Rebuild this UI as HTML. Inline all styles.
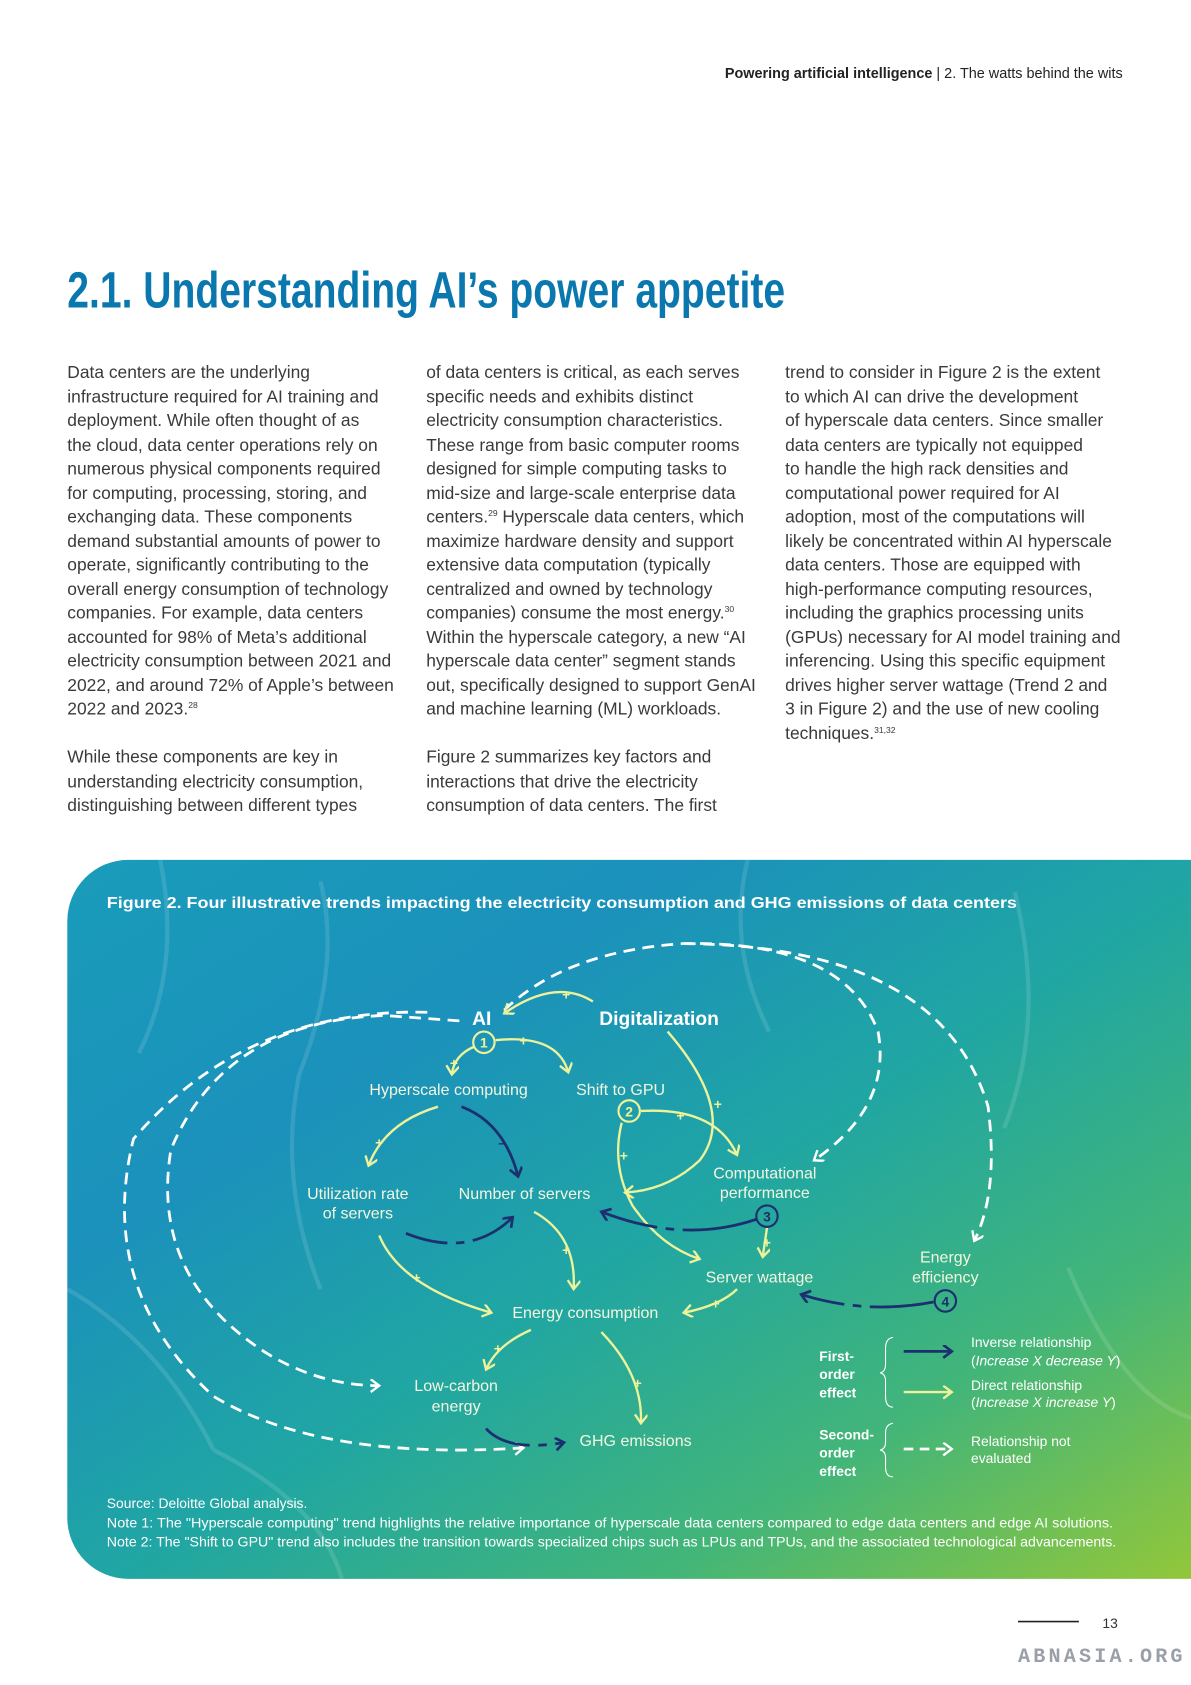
<!DOCTYPE html>
<html><head><meta charset="utf-8">
<style>
html,body{margin:0;padding:0;background:#fff;}
body{width:1191px;height:1684px;overflow:hidden;position:relative;}
#page{position:absolute;left:0;top:0;width:1115px;height:1577px;transform:scale(1.0682);transform-origin:0 0;font-family:"Liberation Sans",sans-serif;}
.col{position:absolute;top:338px;width:330px;font-size:16.3px;line-height:22.5px;color:#3a3a3a;white-space:nowrap;}
sup{font-size:8px;vertical-align:6px;line-height:0;}
</style></head>
<body>
<div id="page">
<div style="position:absolute;right:64px;top:61px;font-size:13.5px;color:#222;white-space:nowrap;"><b>Powering artificial intelligence</b> | 2. The watts behind the wits</div>

<svg style="position:absolute;left:0;top:240px" width="800" height="70">
<text x="63" y="48" font-family="Liberation Sans Narrow, Liberation Sans, sans-serif" font-weight="bold" font-size="48" fill="#0a78ae" textLength="672" lengthAdjust="spacingAndGlyphs">2.1. Understanding AI’s power appetite</text></svg>

<div class="col" style="left:63px">Data centers are the underlying<br>infrastructure required for AI training and<br>deployment. While often thought of as<br>the cloud, data center operations rely on<br>numerous physical components required<br>for computing, processing, storing, and<br>exchanging data. These components<br>demand substantial amounts of power to<br>operate, significantly contributing to the<br>overall energy consumption of technology<br>companies. For example, data centers<br>accounted for 98% of Meta’s additional<br>electricity consumption between 2021 and<br>2022, and around 72% of Apple’s between<br>2022 and 2023.<sup>28</sup><br><br>While these components are key in<br>understanding electricity consumption,<br>distinguishing between different types</div>

<div class="col" style="left:399px">of data centers is critical, as each serves<br>specific needs and exhibits distinct<br>electricity consumption characteristics.<br>These range from basic computer rooms<br>designed for simple computing tasks to<br>mid-size and large-scale enterprise data<br>centers.<sup>29</sup> Hyperscale data centers, which<br>maximize hardware density and support<br>extensive data computation (typically<br>centralized and owned by technology<br>companies) consume the most energy.<sup>30</sup><br>Within the hyperscale category, a new “AI<br>hyperscale data center” segment stands<br>out, specifically designed to support GenAI<br>and machine learning (ML) workloads.<br><br>Figure 2 summarizes key factors and<br>interactions that drive the electricity<br>consumption of data centers. The first</div>

<div class="col" style="left:735px">trend to consider in Figure 2 is the extent<br>to which AI can drive the development<br>of hyperscale data centers. Since smaller<br>data centers are typically not equipped<br>to handle the high rack densities and<br>computational power required for AI<br>adoption, most of the computations will<br>likely be concentrated within AI hyperscale<br>data centers. Those are equipped with<br>high-performance computing resources,<br>including the graphics processing units<br>(GPUs) necessary for AI model training and<br>inferencing. Using this specific equipment<br>drives higher server wattage (Trend 2 and<br>3 in Figure 2) and the use of new cooling<br>techniques.<sup>31,32</sup></div>

<svg style="position:absolute;left:0;top:0" width="1115" height="1577" viewBox="0 0 1115 1577" font-family="Liberation Sans, sans-serif">
<defs>
<linearGradient id="bg" x1="0" y1="0" x2="1" y2="1">
<stop offset="0" stop-color="#1a9cba"/>
<stop offset="0.28" stop-color="#1b91bb"/>
<stop offset="0.52" stop-color="#20a6a3"/>
<stop offset="0.76" stop-color="#42b579"/>
<stop offset="1" stop-color="#92c73a"/>
</linearGradient>
<marker id="my" markerUnits="userSpaceOnUse" markerWidth="16" markerHeight="16" refX="9" refY="6" orient="auto"><path d="M1,0 L9,6 L1,12" fill="none" stroke="#eef39a" stroke-width="2.2"/></marker>
<marker id="mn" markerUnits="userSpaceOnUse" markerWidth="16" markerHeight="16" refX="9" refY="6" orient="auto"><path d="M1,0 L9,6 L1,12" fill="none" stroke="#1c2f6e" stroke-width="2.5"/></marker>
<marker id="mw" markerUnits="userSpaceOnUse" markerWidth="16" markerHeight="16" refX="9" refY="6" orient="auto"><path d="M1,0 L9,6 L1,12" fill="none" stroke="#fff" stroke-width="2.2"/></marker>
</defs>
<g transform="translate(63 805) scale(1 1.0045) translate(-63 -800)">
<path d="M120,800 H1115 V1470 H120 A57,57 0 0 1 63,1413 V857 A57,57 0 0 1 120,800Z" fill="url(#bg)"/>
<g stroke="#ffffff" stroke-opacity="0.12" stroke-width="4" fill="none">
<path d="M150,800 Q170,900 130,980 M300,820 Q320,900 280,1000 Q260,1100 300,1200 M700,800 Q680,880 720,960 M950,830 Q980,950 940,1050 M1000,1180 Q1050,1300 1115,1320 M200,1350 Q300,1400 320,1470 M63,1200 Q150,1250 200,1350"/>
</g>
<text x="100" y="845" font-size="15" font-weight="bold" fill="#fff" textLength="852" lengthAdjust="spacingAndGlyphs">Figure 2.    Four illustrative trends impacting the electricity consumption and GHG emissions of data centers</text>

<g fill="none" stroke="#fff" stroke-width="2.6" stroke-dasharray="11 7" marker-end="url(#mw)">
<path d="M472,940 Q530,885 640,878 Q790,875 822,960 Q835,1030 762,1080"/>
<path d="M640,878 Q880,880 925,1030 Q935,1110 912,1155"/>
<path d="M430,950 L360,945 Q210,950 160,1070 Q140,1190 250,1260 Q300,1290 355,1290"/>
<path d="M400,942 Q230,938 125,1060 Q90,1200 200,1300 Q300,1360 490,1348"/>
</g>

<g fill="none" stroke="#eef39a" stroke-width="2.2" marker-end="url(#my)">
<path d="M555,932 Q520,910 472,943"/>
<path d="M464,968 Q522,962 532,998"/>
<path d="M444,974 Q425,982 423,1000"/>
<path d="M625,960 Q690,1035 655,1080 Q625,1108 585,1110"/>
<path d="M600,1034 Q670,1030 690,1075"/>
<path d="M582,1045 Q572,1085 592,1122 Q618,1160 655,1172"/>
<path d="M410,1030 Q360,1045 345,1085"/>
<path d="M718,1143 L714,1170"/>
<path d="M500,1128 Q540,1150 537,1200"/>
<path d="M355,1150 Q375,1198 460,1222"/>
<path d="M690,1200 Q675,1215 640,1222"/>
<path d="M497,1238 Q465,1252 455,1275"/>
<path d="M563,1240 Q602,1280 600,1325"/>
</g>
<g fill="none" stroke="#1c2f6e" stroke-width="2.6" marker-end="url(#mn)">
<path d="M432,1030 Q472,1045 485,1095"/>
<path stroke-dasharray="70 8 8 8 200" d="M708,1135 Q640,1158 563,1128"/>
<path stroke-dasharray="40 8 8 8 200" d="M380,1148 Q440,1172 480,1133"/>
<path stroke-dasharray="60 8 8 8 200" d="M874,1212 Q810,1224 750,1205"/>
<path stroke-dasharray="45 8 8 8 200" d="M455,1330 Q475,1352 528,1343"/>
</g>

<g font-size="13" fill="#eef39a" font-weight="bold" text-anchor="middle">
<text x="530" y="930">+</text><text x="490" y="973">+</text><text x="425" y="994">+</text>
<text x="672" y="1032">+</text><text x="637" y="1043">+</text><text x="584" y="1080">+</text>
<text x="355" y="1068">+</text><text x="718" y="1161">+</text><text x="530" y="1168">+</text>
<text x="390" y="1194">+</text><text x="670" y="1218">+</text><text x="466" y="1260">+</text><text x="597" y="1292">+</text>
</g>
<text x="470" y="1068" font-size="13" fill="#1c2f6e" font-weight="bold" text-anchor="middle">–</text>

<g fill="none" stroke-width="2">
<circle cx="453" cy="970" r="10" stroke="#eef39a"/>
<circle cx="589" cy="1034" r="10" stroke="#eef39a"/>
<circle cx="718" cy="1132" r="10" stroke="#1c2f6e"/>
<circle cx="885" cy="1211" r="10" stroke="#1c2f6e"/>
</g>
<g font-size="13" text-anchor="middle" font-weight="bold">
<text x="453" y="975" fill="#eef39a">1</text><text x="589" y="1039" fill="#eef39a">2</text>
<text x="718" y="1137" fill="#1c2f6e">3</text><text x="885" y="1216" fill="#1c2f6e">4</text>
</g>

<g fill="#f3f6e0" font-size="15" text-anchor="middle">
<text x="451" y="954" font-size="18" font-weight="bold" fill="#fff">AI</text>
<text x="617" y="954" font-size="18" font-weight="bold" fill="#fff">Digitalization</text>
<text x="420" y="1019">Hyperscale computing</text>
<text x="581" y="1019">Shift to GPU</text>
<text x="335" y="1116">Utilization rate</text>
<text x="335" y="1134">of servers</text>
<text x="491" y="1116">Number of servers</text>
<text x="716" y="1097">Computational</text>
<text x="716" y="1115">performance</text>
<text x="711" y="1194">Server wattage</text>
<text x="885" y="1175">Energy</text>
<text x="885" y="1194">efficiency</text>
<text x="548" y="1227">Energy consumption</text>
<text x="427" y="1295">Low-carbon</text>
<text x="427" y="1314">energy</text>
<text x="595" y="1346">GHG emissions</text>
</g>

<g fill="#fff" font-size="13">
<g font-weight="bold"><text x="767" y="1267">First-</text><text x="767" y="1284">order</text><text x="767" y="1301">effect</text>
<text x="767" y="1340">Second-</text><text x="767" y="1357">order</text><text x="767" y="1374">effect</text></g>
<path d="M836,1245 Q829,1246 829,1255 V1270 Q829,1277 824,1278 Q829,1279 829,1286 V1300 Q829,1310 836,1310" fill="none" stroke="#fff" stroke-width="1"/>
<path d="M836,1325 Q829,1326 829,1334 V1343 Q829,1349 824,1350 Q829,1351 829,1357 V1366 Q829,1375 836,1375" fill="none" stroke="#fff" stroke-width="1"/>
<path d="M846,1258 H891" stroke="#1c2f6e" stroke-width="2.6" marker-end="url(#mn)"/>
<path d="M846,1296 H891" stroke="#eef39a" stroke-width="2.2" marker-end="url(#my)"/>
<path d="M846,1349 H891" stroke="#fff" stroke-width="2.6" stroke-dasharray="9 6" marker-end="url(#mw)"/>
<text x="909" y="1254">Inverse relationship</text>
<text x="909" y="1271">(<tspan font-style="italic">Increase X decrease Y</tspan>)</text>
<text x="909" y="1294">Direct relationship</text>
<text x="909" y="1310">(<tspan font-style="italic">Increase X increase Y</tspan>)</text>
<text x="909" y="1346">Relationship not</text>
<text x="909" y="1362">evaluated</text>
</g>

<g fill="#fff" font-size="13">
<text x="100" y="1404">Source: Deloitte Global analysis.</text>
<text x="100" y="1422" textLength="942" lengthAdjust="spacingAndGlyphs">Note 1: The "Hyperscale computing" trend highlights the relative importance of hyperscale data centers compared to edge data centers and edge AI solutions.</text>
<text x="100" y="1440" textLength="945" lengthAdjust="spacingAndGlyphs">Note 2: The "Shift to GPU" trend also includes the transition towards specialized chips such as LPUs and TPUs, and the associated technological advancements.</text>
</g>
</g>

<line x1="953" y1="1518" x2="1010" y2="1518" stroke="#222" stroke-width="1.5"/>
<text x="1032" y="1524" font-size="13" fill="#333">13</text>
<text x="953" y="1556" font-size="19" font-weight="bold" fill="#9aa0a8" letter-spacing="3" font-family="Liberation Mono, monospace" textLength="157" lengthAdjust="spacingAndGlyphs">ABNASIA.ORG</text>
</svg>
</div>
</body></html>
